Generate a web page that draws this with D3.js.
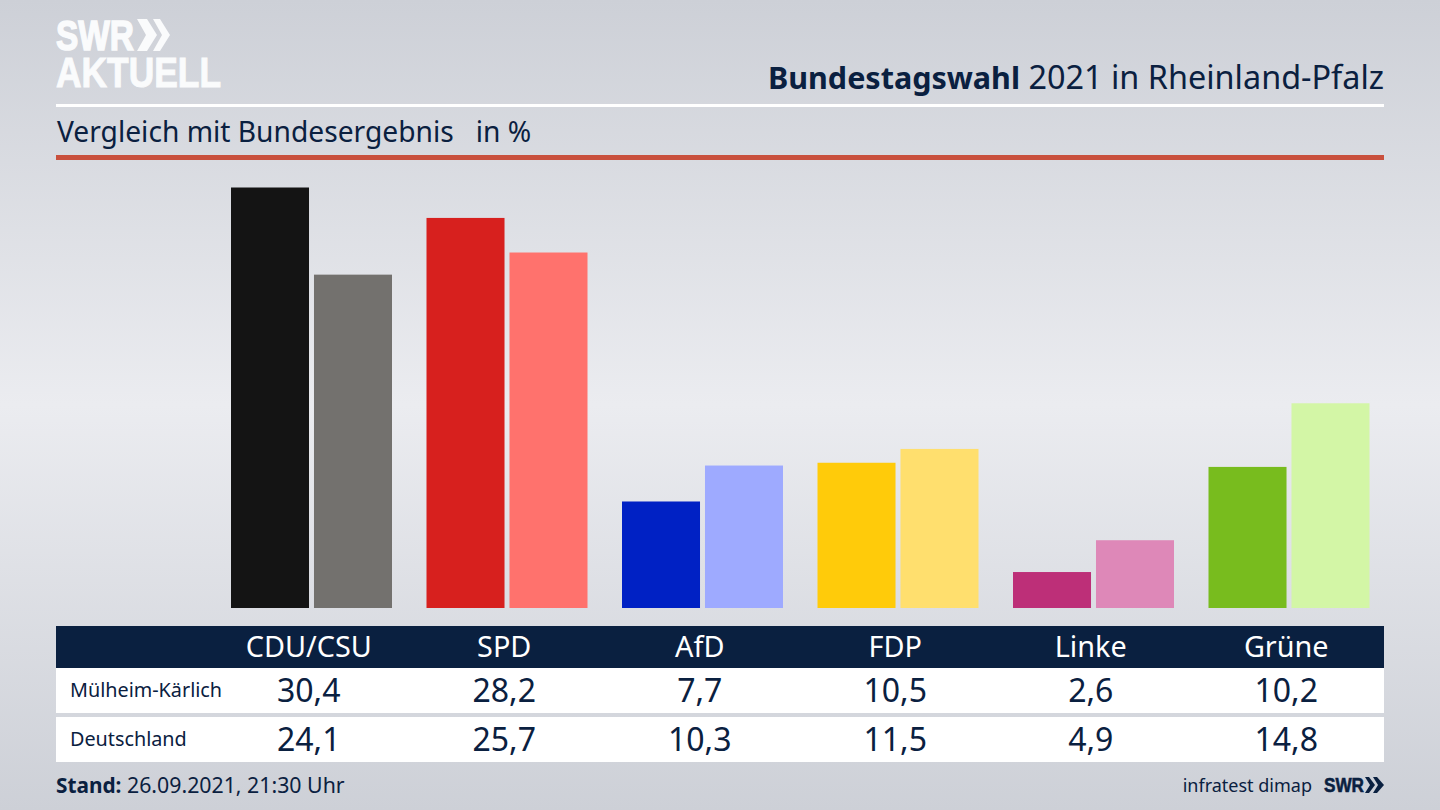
<!DOCTYPE html>
<html>
<head>
<meta charset="utf-8">
<script src="https://cdn.jsdelivr.net/npm/d3@7"></script>
<style>
html, body { margin: 0; padding: 0; background: #d5d7dd; }
svg { display: block; }
text { font-family: "Noto Sans", sans-serif; fill: #0a2040; }
</style>
</head>
<body>
<svg></svg>
<script>
let parties = ["CDU/CSU", "SPD", "AfD", "FDP", "Linke", "Grüne"]
let series = ["Mülheim-Kärlich", "Deutschland"]
let localValues = [30.4, 28.2, 7.7, 10.5, 2.6, 10.2]
let nationalValues = [24.1, 25.7, 10.3, 11.5, 4.9, 14.8]
let localColors = ["#141414", "#d7201e", "#0021c4", "#ffcb0a", "#bd2f78", "#78bc1e"]
let nationalColors = ["#73716e", "#ff726d", "#9eaaff", "#ffdf6e", "#de88b8", "#d3f6a6"]

let width = 1440, height = 810
let navy = "#0a2040"
let left = 56, right = 1384

let svg = d3.select("svg")
    .attr("width", width)
    .attr("height", height)

// background
let defs = svg.append("defs")
let bg = defs.append("linearGradient")
    .attr("id", "bg")
    .attr("x1", 0).attr("x2", 0).attr("y1", 0).attr("y2", 1)
bg.append("stop").attr("offset", "0%").attr("stop-color", "#cdd0d7")
bg.append("stop").attr("offset", "50%").attr("stop-color", "#ebecf0")
bg.append("stop").attr("offset", "100%").attr("stop-color", "#cdd0d7")

svg.append("rect")
    .attr("width", width)
    .attr("height", height)
    .attr("fill", "url(#bg)")

// logo
let logo = svg.append("g")
logo.append("text")
    .attr("x", 56).attr("y", 50)
    .attr("textLength", 78).attr("lengthAdjust", "spacingAndGlyphs")
    .style("font-family", "'Liberation Sans'")
    .style("font-weight", 700).style("font-size", "42px")
    .style("fill", "#fafbfc").style("stroke", "#fafbfc").style("stroke-width", 1.5)
    .text("SWR")
logo.append("text")
    .attr("x", 56).attr("y", 87)
    .attr("textLength", 165).attr("lengthAdjust", "spacingAndGlyphs")
    .style("font-family", "'Liberation Sans'")
    .style("font-weight", 700).style("font-size", "42px")
    .style("fill", "#fafbfc").style("stroke", "#fafbfc").style("stroke-width", 1)
    .text("AKTUELL")
logo.append("path")
    .attr("d", "M137,19 L147,19 L157,35 L147,51 L137,51 L146,35 Z M153,19 L160,19 L170,35 L160,51 L153,51 L162,35 Z")
    .attr("fill", "#fafbfc")

// header
let title = svg.append("text")
    .attr("x", right).attr("y", 89)
    .attr("text-anchor", "end")
title.append("tspan").style("font-weight", 700).style("font-size", "30.5px").text("Bundestagswahl")
title.append("tspan").style("font-size", "32.4px").text(" 2021 in Rheinland-Pfalz")

svg.append("rect")
    .attr("x", left).attr("y", 104)
    .attr("width", right - left).attr("height", 3)
    .attr("fill", "#fff")

svg.append("text")
    .attr("x", 57).attr("y", 142)
    .style("white-space", "pre")
    .style("font-size", "28.2px")
    .text("Vergleich mit Bundesergebnis   in %")

svg.append("rect")
    .attr("x", left).attr("y", 155)
    .attr("width", right - left).attr("height", 5)
    .attr("fill", "#c9503d")

// scales
let x = d3.scaleBand()
    .domain(parties)
    .range([211, right])

let xInner = d3.scaleBand()
    .domain(series)
    .range([20, 181])
    .paddingInner(0.06)

let y = d3.scaleLinear()
    .domain([0, 30.4])
    .range([608, 187.5])

let bars = [
    { name: series[0], values: localValues, colors: localColors },
    { name: series[1], values: nationalValues, colors: nationalColors }
]

bars.forEach(function(s) {
    svg.append("g")
        .selectAll("rect")
        .data(s.values)
        .enter()
        .append("rect")
        .attr("x", function(d, i) { return x(parties[i]) + xInner(s.name) })
        .attr("y", function(d) { return y(d) })
        .attr("width", xInner.bandwidth())
        .attr("height", function(d) { return y(0) - y(d) })
        .attr("fill", function(d, i) { return s.colors[i] })
})

// table
let fmt = d3.formatLocale({ decimal: ",", thousands: ".", grouping: [3], currency: ["", "€"] }).format(".1f")

svg.append("rect")
    .attr("x", left).attr("y", 626)
    .attr("width", right - left).attr("height", 42)
    .attr("fill", navy)

svg.append("g")
    .selectAll("text")
    .data(parties)
    .enter()
    .append("text")
    .attr("x", function(d) { return x(d) + x.bandwidth() / 2 })
    .attr("y", 657)
    .attr("text-anchor", "middle")
    .style("font-size", "28.8px")
    .style("fill", "#fff")
    .text(function(d) { return d })

let rowTop = d3.scaleOrdinal().domain(series).range([668, 717])

bars.forEach(function(s) {
    let row = svg.append("g")
    row.append("rect")
        .attr("x", left).attr("y", rowTop(s.name))
        .attr("width", right - left).attr("height", 45)
        .attr("fill", "#fff")
    row.append("text")
        .attr("x", 70).attr("y", rowTop(s.name) + 29)
        .style("font-size", "19.8px")
        .text(s.name)
    row.selectAll(".val")
        .data(s.values)
        .enter()
        .append("text")
        .attr("class", "val")
        .attr("x", function(d, i) { return x(parties[i]) + x.bandwidth() / 2 })
        .attr("y", rowTop(s.name) + 34)
        .attr("text-anchor", "middle")
        .style("font-size", "32px")
        .text(function(d) { return fmt(d) })
})

// footer
let stand = svg.append("text")
    .attr("x", left).attr("y", 793)
stand.append("tspan").style("font-weight", 700).style("font-size", "20.8px").text("Stand:")
stand.append("tspan").style("font-size", "21.3px").text(" 26.09.2021, 21:30 Uhr")

svg.append("text")
    .attr("x", 1312).attr("y", 792)
    .attr("text-anchor", "end")
    .style("font-size", "18px")
    .text("infratest dimap")

svg.append("text")
    .attr("x", 1324).attr("y", 792)
    .attr("textLength", 40).attr("lengthAdjust", "spacingAndGlyphs")
    .style("font-family", "'Liberation Sans'")
    .style("font-weight", 700).style("font-size", "21px")
    .style("stroke", navy).style("stroke-width", 0.6)
    .text("SWR")

svg.append("path")
    .attr("d", "M1365,777 L1369,777 L1375,785 L1369,793 L1365,793 L1370,785 Z M1373,777 L1377,777 L1384,785 L1377,793 L1373,793 L1378,785 Z")
    .attr("fill", navy)
</script>
</body>
</html>
